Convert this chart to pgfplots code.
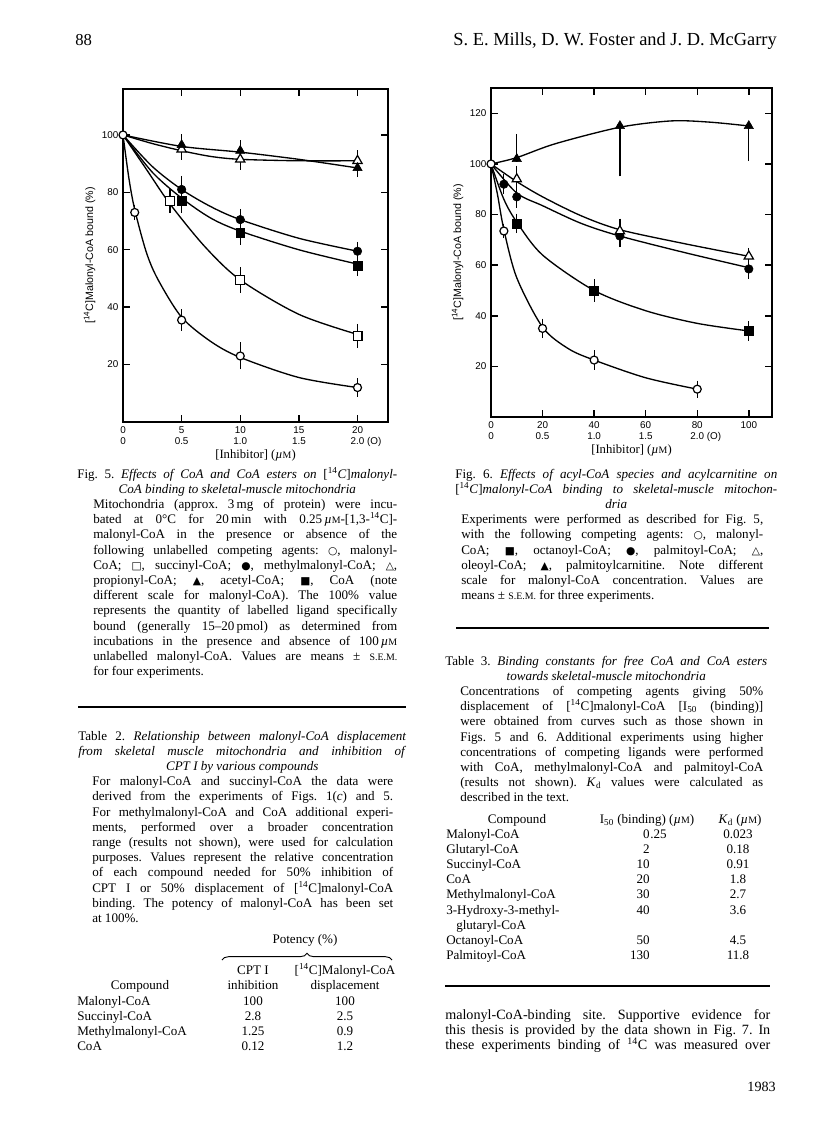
\documentclass[border=0pt]{standalone}
\usepackage{fontspec}
\setmainfont{Liberation Serif}
\setsansfont{Liberation Sans}
\newfontfamily\sym{DejaVu Sans}
\usepackage{pgfplots}
\pgfplotsset{compat=1.18}
\usetikzlibrary{decorations.pathreplacing}

\newcommand\capfont{\fontsize{9.8}{11.4}\selectfont}
\newcommand\sm[1]{{\fontsize{7.4}{8}\selectfont #1}}
\newcommand\sy[1]{{\sym\fontsize{8}{8}\selectfont #1}}
\newcommand\mum{\textit{µ}\sm{M}}
% one justified line per node, baselines 15.2px apart
\newcommand\tblock[5]{\foreach \t [count=\i from 0] in {#5}{%
  \node[anchor=base west, inner sep=0pt, font=#4] at (#1,{#2+15.2*\i}) {\hbox to #3{\t}};}}

\pgfplotsset{
  fig/.style={scale only axis, clip=false,
    axis line style={line width=1.2pt}, tick style={line width=1.1pt, black},
    major tick length=5pt, tick align=inside, xtick pos=both, ytick pos=both,
    xticklabel pos=lower, yticklabel pos=left,
    ticklabel style={font=\fontsize{7.4}{8.5}\sffamily},
    xticklabel style={align=center},
    /pgf/number format/assume math mode=true,
    ylabel style={font=\fontsize{8}{9}\sffamily},
    xlabel style={font=\fontsize{9.5}{10}\rmfamily},
  },
  crv/.style={black, line width=1pt, smooth, no markers},
  ebar/.style={only marks, mark=none, error bars/.cd, y dir=both, y explicit,
    error bar style={line width=0.9pt, black},
    error mark options={mark size=2.6pt, line width=0.9pt, black}},
  oc/.style={only marks, mark=*, mark size=3pt, mark options={fill=white, draw=black, line width=0.9pt}},
  os/.style={only marks, mark=square*, mark size=3.3pt, mark options={fill=white, draw=black, line width=0.9pt}},
  fc/.style={only marks, mark=*, mark size=3.2pt, mark options={fill=black, draw=black}},
  fs/.style={only marks, mark=square*, mark size=3.3pt, mark options={fill=black, draw=black}},
  ot/.style={only marks, mark=triangle*, mark size=4pt, mark options={fill=white, draw=black, line width=0.9pt}},
  ft/.style={only marks, mark=triangle*, mark size=4pt, mark options={fill=black, draw=black}},
}

\begin{document}
\frenchspacing
\begin{tikzpicture}
% page frame in pixel units (816 x 1136)
\begin{scope}[x=0.75pt, y=-0.75pt]
\path[fill=white] (0,0) rectangle (816,1136);
\end{scope}

% ---------------- Fig. 5 ----------------
\begin{axis}[fig, at={(92.25pt,-316.5pt)}, anchor=south west, width=198.75pt, height=249.75pt,
  xmin=0, xmax=22.6, ymin=0, ymax=116,
  xtick={0,5,10,15,20}, xticklabels={0\\0, 5\\0.5, 10\\1.0, 15\\1.5, 20\\2.0\rlap{\ (O)}},
  ytick={20,40,60,80,100},
  xlabel={[Inhibitor] (\mum)}, ylabel={[\textsuperscript{14}C]Malonyl-CoA bound (\%)},
  xlabel style={yshift=5pt}, ylabel style={yshift=-2pt}]
  % fitted curves
  \addplot[crv] coordinates {(0,100) (0.5,85) (1,74) (2,59) (3,49.5) (5,36.5) (7.5,28) (10,22.5) (15,15.5) (20,12)};
  \addplot[crv] coordinates {(0,100) (2,88) (4,76) (7,61) (10,49.5) (15,37.5) (20,30.5)};
  \addplot[crv] coordinates {(0,100) (2.5,89) (5,81) (7.5,75) (10,70.5) (15,64) (20,59.5)};
  \addplot[crv] coordinates {(0,100) (2.5,87) (5,78) (7.5,71) (10,66.5) (15,60) (20,55)};
  \addplot[crv] coordinates {(0,100) (2.5,97) (5,94.5) (7.5,92.5) (10,91.5) (15,91) (20,91)};
  \addplot[crv] coordinates {(0,100) (5,96) (10,94) (15,91.5) (20,88.5)};
  % error bars
  \addplot[ebar] coordinates {(1,73) +- (0,1.5) (5,35.5) +- (0,2.5) (10,23) +- (0,3.5) (20,12) +- (0,2)};
  \addplot[ebar] coordinates {(4,77) +- (0,3) (10,49.5) +- (0,3.2) (20,30) +- (0,3)};
  \addplot[ebar] coordinates {(5,81) +- (0,3.5) (10,70.5) +- (0,2.5) (20,59.5) +- (0,2)};
  \addplot[ebar] coordinates {(5,77) +- (0,3) (10,66) +- (0,3) (20,54.5) +- (0,2.5)};
  \addplot[ebar] coordinates {(5,95) +- (0,2.5) (10,91.5) +- (0,2.5) (20,91) +- (0,2.5)};
  \addplot[ebar] coordinates {(5,96.5) +- (0,2.5) (10,94.5) +- (0,2.5) (20,88.5) +- (0,2)};
  % markers
  \addplot[oc] coordinates {(0,100) (1,73) (5,35.5) (10,23) (20,12)};
  \addplot[os] coordinates {(4,77) (10,49.5) (20,30)};
  \addplot[fc] coordinates {(5,81) (10,70.5) (20,59.5)};
  \addplot[fs] coordinates {(5,77) (10,66) (20,54.5)};
  \addplot[ot] coordinates {(5,95) (10,91.5) (20,91)};
  \addplot[ft] coordinates {(5,96.5) (10,94.5) (20,88.5)};
\end{axis}

% ---------------- Fig. 6 ----------------
\begin{axis}[fig, at={(368.25pt,-312.75pt)}, anchor=south west, width=210.75pt, height=246.75pt,
  xmin=0, xmax=109, ymin=0, ymax=130,
  xtick={0,20,40,60,80,100}, xticklabels={0\\0, 20\\0.5, 40\\1.0, 60\\1.5, 80\\2.0\rlap{\ (O)}, 100},
  ytick={20,40,60,80,100,120},
  xlabel={[Inhibitor] (\mum)}, ylabel={[\textsuperscript{14}C]Malonyl-CoA bound (\%)},
  xlabel style={yshift=5pt}, ylabel style={yshift=-2pt}]
  \addplot[crv] coordinates {(0,100) (10,102.5) (25,108) (50,114.5) (70,117) (85,116.5) (100,115)};
  \addplot[crv] coordinates {(0,100) (10,93) (20,87) (35,79.5) (50,74) (75,68.5) (100,63.5)};
  \addplot[crv] coordinates {(0,100) (10,88.5) (20,83.5) (35,76.5) (50,71.5) (75,65) (100,59)};
  \addplot[crv] coordinates {(0,100) (5,86) (10,77) (20,64) (40,50) (60,42) (80,37) (100,34)};
  \addplot[crv] coordinates {(0,100) (2.5,88) (5,74) (10,55) (20,35.5) (30,27) (40,22.5) (60,15.5) (80,11)};
  \addplot[ebar] coordinates {(5,73.5) +- (0,1.5) (20,35) +- (0,2.5) (40,22.5) +- (0,2.5) (80,11) +- (0,2)};
  \addplot[ebar] coordinates {(10,76.5) +- (0,2.5) (40,50) +- (0,3) (100,34) +- (0,2.5)};
  \addplot[ebar] coordinates {(5,92) +- (0,2.5) (10,87) +- (0,3) (50,71.5) +- (0,3) (100,58.5) +- (0,2.5)};
  \addplot[ebar] coordinates {(10,94) +- (0,4) (50,73.5) +- (0,3.5) (100,63.5) +- (0,2)};
  \addplot[ebar] coordinates {(10,102) += (0,8.5) -= (0,0) (50,115) += (0,0) -= (0,18.5) (100,115) += (0,0) -= (0,12.5)};
  \addplot[oc] coordinates {(0,100) (5,73.5) (20,35) (40,22.5) (80,11)};
  \addplot[fs] coordinates {(10,76.5) (40,50) (100,34)};
  \addplot[fc] coordinates {(5,92) (10,87) (50,71.5) (100,58.5)};
  \addplot[ot] coordinates {(10,94) (50,73.5) (100,63.5)};
  \addplot[ft] coordinates {(10,102) (50,115) (100,115)};
\end{axis}

\begin{scope}[x=0.75pt, y=-0.75pt]
% running head
\node[anchor=base west, inner sep=0pt, font=\fontsize{12.5}{13}\selectfont] at (75,45) {88};
\node[anchor=base east, inner sep=0pt, font=\fontsize{13.8}{14}\selectfont] at (777,45) {S. E. Mills, D. W. Foster and J. D. McGarry};

% ---------------- captions, left column ----------------
\tblock{77}{478}{240pt}{\capfont}{
 {Fig. 5. \textit{Effects of CoA and CoA esters on} [\textsuperscript{14}\textit{C}]\textit{malonyl-}},
 {\hfil\textit{CoA binding to skeletal-muscle mitochondria}\hfil}}
\tblock{93}{508.4}{228pt}{\capfont}{
 {Mitochondria (approx. 3\,mg of protein) were incu-},
 {bated at 0°C for 20\,min with 0.25\,\mum-[1,3-\textsuperscript{14}C]-},
 {malonyl-CoA in the presence or absence of the},
 {following unlabelled competing agents: \sy{○}, malonyl-},
 {CoA; \sy{□}, succinyl-CoA; \sy{●}, methylmalonyl-CoA; \sy{△},},
 {propionyl-CoA; \sy{▲}, acetyl-CoA; \sy{■}, CoA (note},
 {different scale for malonyl-CoA). The 100\% value},
 {represents the quantity of labelled ligand specifically},
 {bound (generally 15–20\,pmol) as determined from},
 {incubations in the presence and absence of 100\,\mum},
 {unlabelled malonyl-CoA. Values are means ± \sm{S.E.M.}},
 {for four experiments.\hfil}}
\draw[line width=1.1pt] (78,707) -- (406,707);

\tblock{78}{740}{246pt}{\capfont}{
 {Table 2. \textit{Relationship between malonyl-CoA displacement}},
 {\textit{from skeletal muscle mitochondria and inhibition of}},
 {\hfil\textit{CPT I by various compounds}\hfil}}
\tblock{92}{785.6}{225.75pt}{\capfont}{
 {For malonyl-CoA and succinyl-CoA the data were},
 {derived from the experiments of Figs. 1(\textit{c}) and 5.},
 {For methylmalonyl-CoA and CoA additional experi-},
 {ments, performed over a broader concentration},
 {range (results not shown), were used for calculation},
 {purposes. Values represent the relative concentration},
 {of each compound needed for 50\% inhibition of},
 {CPT I or 50\% displacement of [\textsuperscript{14}C]malonyl-CoA},
 {binding. The potency of malonyl-CoA has been set},
 {at 100\%.\hfil}}

% Table 2 body
\begin{scope}[every node/.style={inner sep=0pt, font=\capfont}]
\node[anchor=base] at (305,943) {Potency (\%)};
\draw[line width=0.7pt, decorate, decoration={brace, amplitude=5pt}] (222,960) -- (392,960);
\node[anchor=base] at (253,974) {CPT I};
\node[anchor=base] at (253,989) {inhibition};
\node[anchor=base] at (345,974) {[\textsuperscript{14}C]Malonyl-CoA};
\node[anchor=base] at (345,989) {displacement};
\node[anchor=base] at (140,989) {Compound};
\foreach \n/\a/\b [count=\i from 0] in {Malonyl-CoA/100/100, Succinyl-CoA/2.8/2.5, Methylmalonyl-CoA/1.25/0.9, CoA/0.12/1.2}{
  \node[anchor=base west] at (77,{1005+15.2*\i}) {\n};
  \node[anchor=base] at (253,{1005+15.2*\i}) {\a};
  \node[anchor=base] at (345,{1005+15.2*\i}) {\b};}
\end{scope}

% ---------------- captions, right column ----------------
\tblock{455}{478}{241.5pt}{\capfont}{
 {Fig. 6. \textit{Effects of acyl-CoA species and acylcarnitine on}},
 {[\textsuperscript{14}\textit{C}]\textit{malonyl-CoA binding to skeletal-muscle mitochon-}},
 {\hfil\textit{dria}\hfil}}
\tblock{461}{523.6}{226.5pt}{\capfont}{
 {Experiments were performed as described for Fig. 5,},
 {with the following competing agents: \sy{○}, malonyl-},
 {CoA; \sy{■}, octanoyl-CoA; \sy{●}, palmitoyl-CoA; \sy{△},},
 {oleoyl-CoA; \sy{▲}, palmitoylcarnitine. Note different},
 {scale for malonyl-CoA concentration. Values are},
 {means ± \sm{S.E.M.} for three experiments.\hfil}}
\draw[line width=1.1pt] (456,628) -- (769,628);

\tblock{445}{665}{241.5pt}{\capfont}{
 {Table 3. \textit{Binding constants for free CoA and CoA esters}},
 {\hfil\textit{towards skeletal-muscle mitochondria}\hfil}}
\tblock{460}{695.4}{227.25pt}{\capfont}{
 {Concentrations of competing agents giving 50\%},
 {displacement of [\textsuperscript{14}C]malonyl-CoA [I\textsubscript{50} (binding)]},
 {were obtained from curves such as those shown in},
 {Figs. 5 and 6. Additional experiments using higher},
 {concentrations of competing ligands were performed},
 {with CoA, methylmalonyl-CoA and palmitoyl-CoA},
 {(results not shown). \textit{K}\textsubscript{d} values were calculated as},
 {described in the text.\hfil}}

% Table 3 body
\begin{scope}[every node/.style={inner sep=0pt, font=\capfont}]
\node[anchor=base] at (517,823) {Compound};
\node[anchor=base] at (647,823) {I\textsubscript{50} (binding) (\mum)};
\node[anchor=base] at (740,823) {\textit{K}\textsubscript{d} (\mum)};
\foreach \n/\a/\b/\c [count=\i from 0] in {Malonyl-CoA/0/.25/0.023, Glutaryl-CoA/2//0.18, Succinyl-CoA/10//0.91,
   CoA/20//1.8, Methylmalonyl-CoA/30//2.7, 3-Hydroxy-3-methyl-/40//3.6}{
  \node[anchor=base west] at (446,{838+15.2*\i}) {\n};
  \node[anchor=base east] at (650,{838+15.2*\i}) {\a};
  \node[anchor=base west] at (650,{838+15.2*\i}) {\b};
  \node[anchor=base] at (738,{838+15.2*\i}) {\c};}
\node[anchor=base west] at (456,929.2) {glutaryl-CoA};
\node[anchor=base west] at (446,944.4) {Octanoyl-CoA};
\node[anchor=base east] at (650,944.4) {50};
\node[anchor=base] at (738,944.4) {4.5};
\node[anchor=base west] at (446,959.6) {Palmitoyl-CoA};
\node[anchor=base east] at (650,959.6) {130};
\node[anchor=base] at (738,959.6) {11.8};
\end{scope}
\draw[line width=1.1pt] (445,986) -- (770,986);

\tblock{445}{1019}{243.75pt}{\fontsize{10.6}{12}\selectfont}{
 {malonyl-CoA-binding site. Supportive evidence for},
 {this thesis is provided by the data shown in Fig. 7. In},
 {these experiments binding of \textsuperscript{14}C was measured over}}
\node[anchor=base east, inner sep=0pt, font=\fontsize{10.6}{12}\selectfont] at (776,1091) {1983};
\end{scope}
\end{tikzpicture}
\end{document}
